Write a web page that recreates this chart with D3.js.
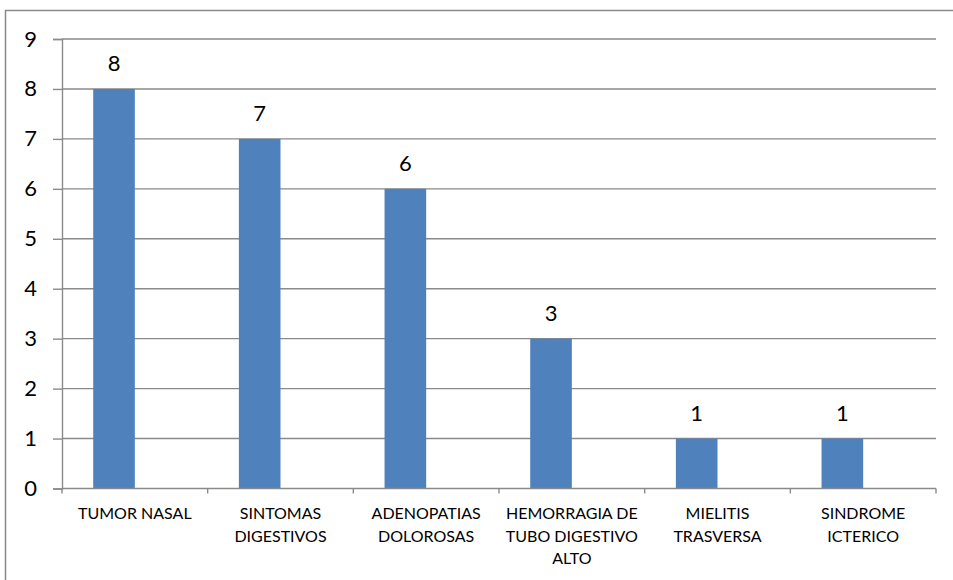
<!DOCTYPE html>
<html>
<head>
<meta charset="utf-8">
<script src="https://cdn.jsdelivr.net/npm/d3@7"></script>
<style>
  html, body { margin: 0; padding: 0; background: #fff; }
  svg { display: block; font-family: Lato, "Open Sans", sans-serif; }
</style>
</head>
<body>
<svg id="chart" width="953" height="580"></svg>
<script>
// Casos por forma de presentación
const categories = ["TUMOR NASAL", "SINTOMAS DIGESTIVOS", "ADENOPATIAS DOLOROSAS",
  "HEMORRAGIA DE TUBO DIGESTIVO ALTO", "MIELITIS TRASVERSA", "SINDROME ICTERICO"];
const values = [8, 7, 6, 3, 1, 1];
const yTicks = [0, 1, 2, 3, 4, 5, 6, 7, 8, 9];

const svg = d3.select("#chart");
const W = 953, H = 580;
const plot = { left: 62, right: 936, top: 39, bottom: 488.5 };

// Outer frame of the chart object
svg.append("rect")
  .attr("x", 5.5).attr("y", 10.5)
  .attr("width", W).attr("height", H)
  .attr("fill", "none").attr("stroke", "#8a8a8a").attr("stroke-width", 1.5);

const x = d3.scaleBand().domain(categories).range([plot.left, plot.right]).padding(0);
const y = d3.scaleLinear().domain([0, 9]).range([plot.bottom, plot.top]);

// Column layout: two series slots per category with a 150% gap, only the first is filled
const slots = 2, gap = 1.5;
const barW = x.bandwidth() / (slots + gap);
const barOffset = gap * barW / 2;

// Horizontal gridlines
svg.append("g")
  .selectAll("line")
  .data(yTicks.filter(t => t > 0))
  .join("line")
  .attr("x1", plot.left).attr("x2", plot.right)
  .attr("y1", d => y(d)).attr("y2", d => y(d))
  .attr("stroke", "#8a8a8a").attr("stroke-width", 1.4);

// Y axis
const yAxis = svg.append("g")
  .attr("transform", `translate(${plot.left},0)`)
  .call(d3.axisLeft(y).tickValues(yTicks).tickSize(9).tickPadding(16).tickFormat(d3.format("d")));
yAxis.select(".domain").attr("stroke", "#8a8a8a").attr("stroke-width", 1.4);
yAxis.selectAll(".tick line").attr("stroke", "#8a8a8a").attr("stroke-width", 1.4);
yAxis.selectAll(".tick text")
  .attr("font-size", 22).attr("fill", "#000").attr("font-family", "Lato, sans-serif");

// Bars
svg.append("g")
  .selectAll("rect")
  .data(categories.map((c, i) => ({ c, v: values[i] })))
  .join("rect")
  .attr("x", d => x(d.c) + barOffset)
  .attr("width", barW)
  .attr("y", d => y(d.v))
  .attr("height", d => y(0) - y(d.v))
  .attr("fill", "#4f81bd");

// X axis baseline with tick marks at category boundaries
const xg = svg.append("g");
xg.append("line")
  .attr("x1", plot.left).attr("x2", plot.right)
  .attr("y1", y(0)).attr("y2", y(0))
  .attr("stroke", "#8a8a8a").attr("stroke-width", 1.4);
const bounds = categories.map(c => x(c)).concat([plot.right]);
xg.selectAll("line.tk")
  .data(bounds)
  .join("line")
  .attr("class", "tk")
  .attr("x1", d => d).attr("x2", d => d)
  .attr("y1", y(0)).attr("y2", y(0) + 5)
  .attr("stroke", "#8a8a8a").attr("stroke-width", 1.4);

// Value labels above bars
svg.append("g")
  .selectAll("text")
  .data(categories.map((c, i) => ({ c, v: values[i] })))
  .join("text")
  .attr("x", d => x(d.c) + barOffset + barW / 2)
  .attr("y", d => y(d.v) - 18)
  .attr("text-anchor", "middle")
  .attr("font-size", 22)
  .attr("fill", "#000")
  .text(d => d.v);

// Category labels, wrapped to the band width
const maxLine = x.bandwidth() - 4;
const catG = svg.append("g");
categories.forEach(c => {
  const cx = x(c) + x.bandwidth() / 2;
  const t = catG.append("text")
    .attr("x", cx)
    .attr("y", 519)
    .attr("text-anchor", "middle")
    .attr("font-size", 16)
    .attr("fill", "#000");
  let line = [];
  let tspan = t.append("tspan").attr("x", cx).attr("dy", 0);
  c.split(" ").forEach(w => {
    line.push(w);
    tspan.text(line.join(" "));
    if (tspan.node().getComputedTextLength() > maxLine && line.length > 1) {
      line.pop();
      tspan.text(line.join(" "));
      line = [w];
      tspan = t.append("tspan").attr("x", cx).attr("dy", 22.5).text(w);
    }
  });
});
</script>
</body>
</html>
